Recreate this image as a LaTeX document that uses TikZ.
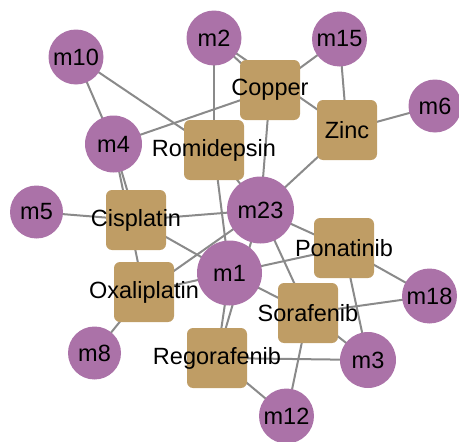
\documentclass[tikz,border=0pt]{standalone}
\usepackage{fontspec}
\setmainfont{Liberation Sans}
\usetikzlibrary{backgrounds}
\definecolor{mirna}{HTML}{AB72A8}
\definecolor{drug}{HTML}{BF9D65}
\definecolor{edgegray}{HTML}{8A8A8A}
\begin{document}
\begin{tikzpicture}[x=1pt,y=-1pt,
  mnode/.style={circle,fill=mirna,draw=none,inner sep=0pt,minimum size=#1,font=\fontsize{23.5}{26}\selectfont},
  dnode/.style={rectangle,rounded corners=6pt,fill=drug,draw=none,inner sep=0pt,minimum size=60pt,
    label={[inner sep=0pt,font=\fontsize{23.5}{26}\selectfont]center:#1}},
  link/.style={draw=edgegray,line width=2pt}]
\useasboundingbox (0,0) rectangle (459,442);
% drug nodes
\node[dnode=Copper] (copper) at (270,90) {};
\node[dnode=Zinc] (zinc) at (347,130) {};
\node[dnode=Romidepsin] (romi) at (214,150) {};
\node[dnode=Cisplatin] (cis) at (136,220) {};
\node[dnode=Oxaliplatin] (oxa) at (144,292) {};
\node[dnode=Ponatinib] (pona) at (344,248) {};
\node[dnode=Sorafenib] (sora) at (308,313) {};
\node[dnode=Regorafenib] (rego) at (217,358) {};
% miRNA nodes
\node[mnode=55pt] (m10) at (76,57) {m10};
\node[mnode=55pt] (m2) at (214,38) {m2};
\node[mnode=55pt] (m15) at (339.5,39) {m15};
\node[mnode=53pt] (m6) at (435,106) {m6};
\node[mnode=57pt] (m4) at (113.5,144) {m4};
\node[mnode=53pt] (m5) at (36.5,212) {m5};
\node[mnode=67pt] (m23) at (260.5,210) {m23};
\node[mnode=65pt] (m1) at (229.5,273) {m1};
\node[mnode=53pt] (m8) at (94.5,353) {m8};
\node[mnode=55pt] (m18) at (429.5,296) {m18};
\node[mnode=56pt] (m3) at (368,360) {m3};
\node[mnode=55pt] (m12) at (286.5,416) {m12};
% edges
\begin{scope}[on background layer]
\foreach \a/\b in {m10/m4, m10/romi, m4/copper, m2/romi, romi/m1, m2/copper, m2/zinc,
  m15/copper, m15/zinc, zinc/m6, copper/m23, zinc/m23, romi/m23,
  m4/cis, m4/oxa, m5/cis, cis/m23, cis/m1, oxa/m23, oxa/m1, oxa/m8,
  m23/sora, m23/pona, m1/pona, m1/sora, m1/rego, m23/rego,
  pona/m18, pona/m3, sora/m18, sora/m3, sora/m12, rego/m3, rego/m12}
  {\path[link] (\a.center) -- (\b.center);}
\end{scope}
\end{tikzpicture}
\end{document}
